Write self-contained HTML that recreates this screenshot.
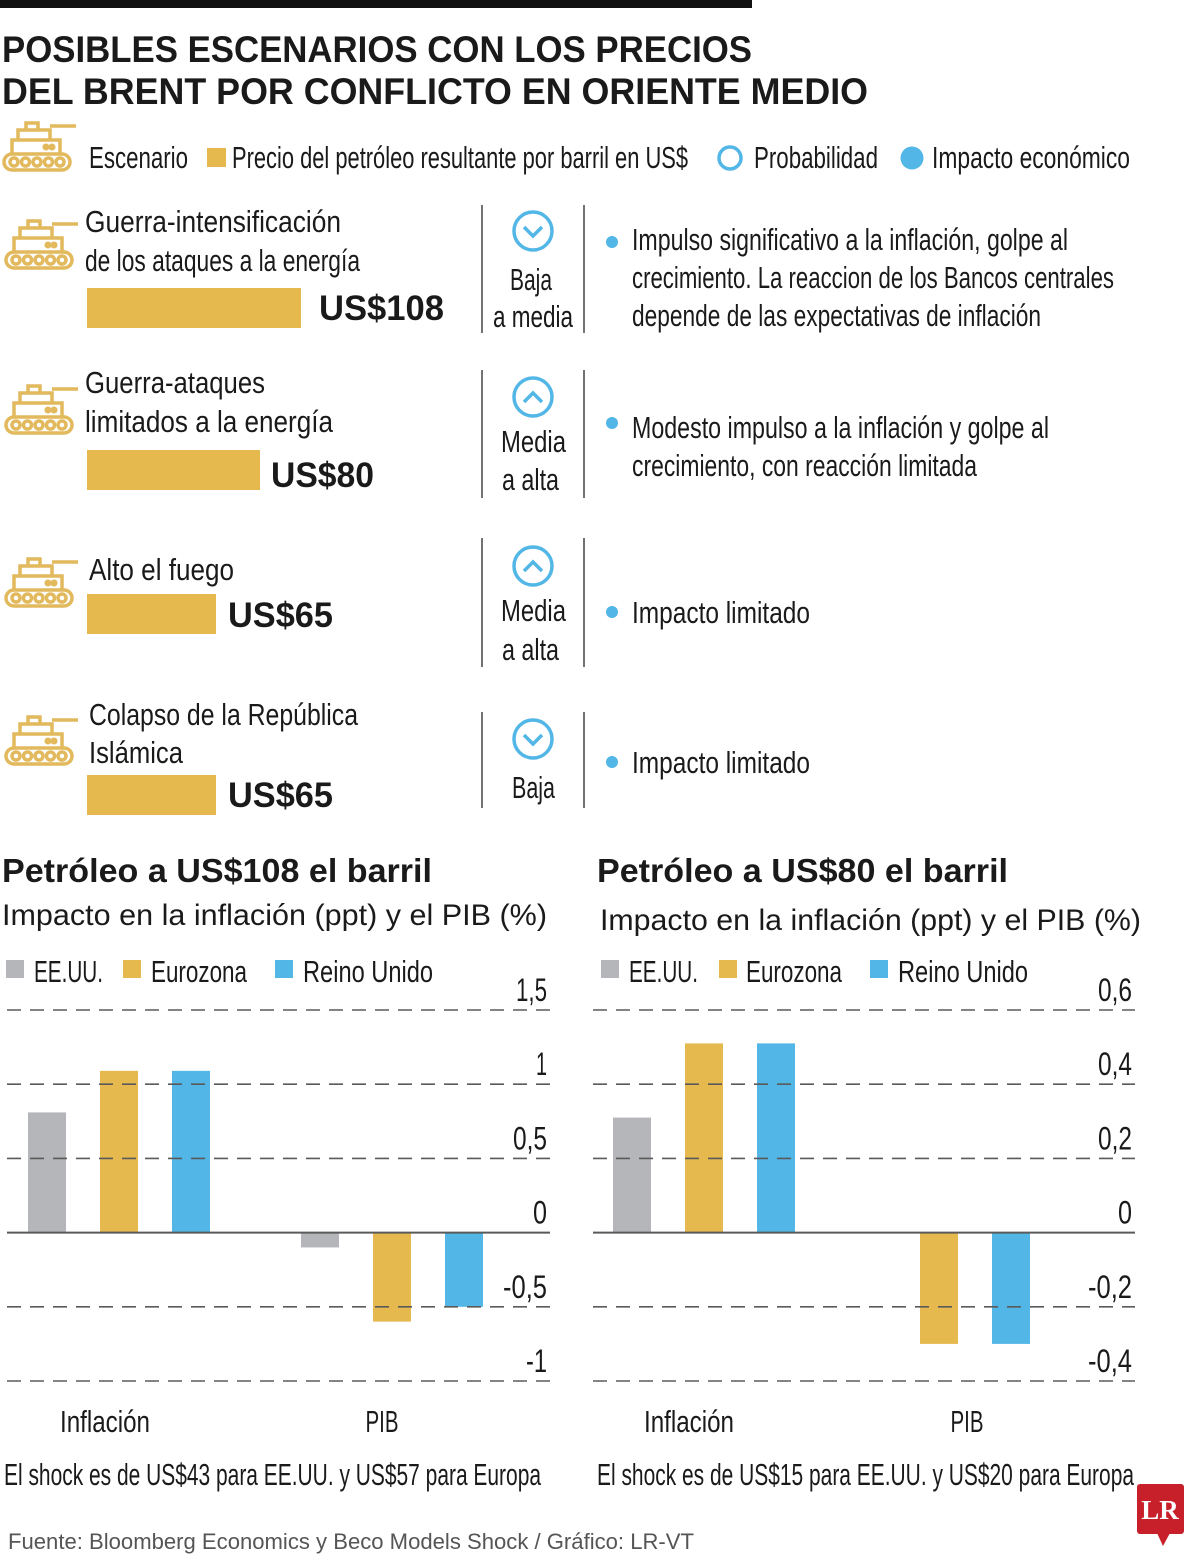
<!DOCTYPE html>
<html><head><meta charset="utf-8">
<style>
html,body{margin:0;padding:0;background:#fff;}
svg{display:block;}
text{font-family:"Liberation Sans Narrow","Liberation Sans",sans-serif;fill:#1a1a1a;}
.b{font-family:"Liberation Sans",sans-serif;font-weight:bold;}
.r{font-family:"Liberation Sans",sans-serif;}
</style></head>
<body>
<svg id="root" width="1200" height="1563" viewBox="0 0 1200 1563" xmlns="http://www.w3.org/2000/svg">
<defs>
<g id="tank" fill="none" stroke="#e2b95c" stroke-width="3.5">
  <rect x="2" y="36" width="66" height="16" rx="8"/>
  <circle cx="12" cy="44" r="4"/><circle cx="23.5" cy="44" r="4"/><circle cx="35" cy="44" r="4"/><circle cx="46.5" cy="44" r="4"/><circle cx="58" cy="44" r="4"/>
  <path d="M10 36 V22 H58 V36"/>
  <path d="M16 22 V12 H48 V22"/>
  <path d="M24 12 V5 H36 V12"/>
  <path d="M48 8 H74"/>
  <circle cx="44" cy="29" r="1.8" fill="#e2b95c"/><circle cx="50" cy="29" r="1.8" fill="#e2b95c"/>
</g>
</defs>
<rect x="0" y="0" width="752" height="8" fill="#111"/>
<text class="b" x="2" y="62" font-size="37" textLength="750" lengthAdjust="spacingAndGlyphs">POSIBLES ESCENARIOS CON LOS PRECIOS</text>
<text class="b" x="2" y="104" font-size="37" textLength="866" lengthAdjust="spacingAndGlyphs">DEL BRENT POR CONFLICTO EN ORIENTE MEDIO</text>

<g>
<use href="#tank" x="2" y="118"/>
<text x="89" y="168" font-size="31" textLength="99" lengthAdjust="spacingAndGlyphs">Escenario</text>
<rect x="207" y="148" width="19" height="19" fill="#e6b94f"/>
<text x="232" y="168" font-size="31" textLength="456" lengthAdjust="spacingAndGlyphs">Precio del petróleo resultante por barril en US$</text>
<circle cx="730" cy="158" r="11" fill="none" stroke="#52b6e6" stroke-width="3.5"/>
<text x="754" y="168" font-size="31" textLength="124" lengthAdjust="spacingAndGlyphs">Probabilidad</text>
<circle cx="912" cy="158" r="11.5" fill="#52b6e6"/>
<text x="932" y="168" font-size="31" textLength="198" lengthAdjust="spacingAndGlyphs">Impacto económico</text>
</g>

<g>
<use href="#tank" x="4" y="216"/>
<text x="85" y="232" font-size="31" textLength="256" lengthAdjust="spacingAndGlyphs">Guerra-intensificación</text>
<text x="85" y="271" font-size="31" textLength="275" lengthAdjust="spacingAndGlyphs">de los ataques a la energía</text>
<rect x="87" y="288" width="214" height="40" fill="#e6b94f"/>
<text class="b" x="319" y="320" font-size="35" textLength="125" lengthAdjust="spacingAndGlyphs">US$108</text>
<line x1="482" y1="205" x2="482" y2="333" stroke="#444" stroke-width="1.5"/>
<line x1="584" y1="205" x2="584" y2="333" stroke="#444" stroke-width="1.5"/>
<circle cx="533" cy="231" r="19" fill="none" stroke="#52b6e6" stroke-width="3.5"/>
<path d="M524 227 L533 236 L542 227" fill="none" stroke="#52b6e6" stroke-width="3.5"/>
<text x="510" y="290" font-size="31" textLength="42" lengthAdjust="spacingAndGlyphs">Baja</text>
<text x="493" y="327" font-size="31" textLength="80" lengthAdjust="spacingAndGlyphs">a media</text>
<circle cx="612" cy="242" r="6" fill="#52b6e6"/>
<text x="632" y="250" font-size="31" textLength="436" lengthAdjust="spacingAndGlyphs">Impulso significativo a la inflación, golpe al</text>
<text x="632" y="288" font-size="31" textLength="482" lengthAdjust="spacingAndGlyphs">crecimiento. La reaccion de los Bancos centrales</text>
<text x="632" y="326" font-size="31" textLength="409" lengthAdjust="spacingAndGlyphs">depende de las expectativas de inflación</text>
</g>

<g>
<use href="#tank" x="4" y="381"/>
<text x="85" y="393" font-size="31" textLength="180" lengthAdjust="spacingAndGlyphs">Guerra-ataques</text>
<text x="85" y="432" font-size="31" textLength="248" lengthAdjust="spacingAndGlyphs">limitados a la energía</text>
<rect x="87" y="450" width="173" height="40" fill="#e6b94f"/>
<text class="b" x="271" y="487" font-size="35" textLength="103" lengthAdjust="spacingAndGlyphs">US$80</text>
<line x1="482" y1="370" x2="482" y2="498" stroke="#444" stroke-width="1.5"/>
<line x1="584" y1="370" x2="584" y2="498" stroke="#444" stroke-width="1.5"/>
<circle cx="533" cy="397" r="19" fill="none" stroke="#52b6e6" stroke-width="3.5"/>
<path d="M524 402 L533 393 L542 402" fill="none" stroke="#52b6e6" stroke-width="3.5"/>
<text x="501" y="452" font-size="31" textLength="65" lengthAdjust="spacingAndGlyphs">Media</text>
<text x="502" y="490" font-size="31" textLength="57" lengthAdjust="spacingAndGlyphs">a alta</text>
<circle cx="612" cy="423" r="6" fill="#52b6e6"/>
<text x="632" y="438" font-size="31" textLength="417" lengthAdjust="spacingAndGlyphs">Modesto impulso a la inflación y golpe al</text>
<text x="632" y="476" font-size="31" textLength="345" lengthAdjust="spacingAndGlyphs">crecimiento, con reacción limitada</text>
</g>

<g>
<use href="#tank" x="4" y="554"/>
<text x="89" y="580" font-size="31" textLength="145" lengthAdjust="spacingAndGlyphs">Alto el fuego</text>
<rect x="87" y="594" width="129" height="40" fill="#e6b94f"/>
<text class="b" x="228" y="627" font-size="35" textLength="105" lengthAdjust="spacingAndGlyphs">US$65</text>
<line x1="482" y1="538" x2="482" y2="667" stroke="#444" stroke-width="1.5"/>
<line x1="584" y1="538" x2="584" y2="667" stroke="#444" stroke-width="1.5"/>
<circle cx="533" cy="566" r="19" fill="none" stroke="#52b6e6" stroke-width="3.5"/>
<path d="M524 571 L533 562 L542 571" fill="none" stroke="#52b6e6" stroke-width="3.5"/>
<text x="501" y="621" font-size="31" textLength="65" lengthAdjust="spacingAndGlyphs">Media</text>
<text x="502" y="660" font-size="31" textLength="57" lengthAdjust="spacingAndGlyphs">a alta</text>
<circle cx="612" cy="612" r="6" fill="#52b6e6"/>
<text x="632" y="623" font-size="31" textLength="178" lengthAdjust="spacingAndGlyphs">Impacto limitado</text>
</g>

<g>
<use href="#tank" x="4" y="712"/>
<text x="89" y="725" font-size="31" textLength="269" lengthAdjust="spacingAndGlyphs">Colapso de la República</text>
<text x="89" y="763" font-size="31" textLength="94" lengthAdjust="spacingAndGlyphs">Islámica</text>
<rect x="87" y="775" width="129" height="40" fill="#e6b94f"/>
<text class="b" x="228" y="807" font-size="35" textLength="105" lengthAdjust="spacingAndGlyphs">US$65</text>
<line x1="482" y1="712" x2="482" y2="808" stroke="#444" stroke-width="1.5"/>
<line x1="584" y1="712" x2="584" y2="808" stroke="#444" stroke-width="1.5"/>
<circle cx="533" cy="739" r="19" fill="none" stroke="#52b6e6" stroke-width="3.5"/>
<path d="M524 735 L533 744 L542 735" fill="none" stroke="#52b6e6" stroke-width="3.5"/>
<text x="512" y="798" font-size="31" textLength="43" lengthAdjust="spacingAndGlyphs">Baja</text>
<circle cx="612" cy="762" r="6" fill="#52b6e6"/>
<text x="632" y="773" font-size="31" textLength="178" lengthAdjust="spacingAndGlyphs">Impacto limitado</text>
</g>

<text class="b" x="2" y="882" font-size="33" textLength="430" lengthAdjust="spacingAndGlyphs">Petróleo a US$108 el barril</text>
<text class="r" x="2" y="925" font-size="30" textLength="545" lengthAdjust="spacingAndGlyphs">Impacto en la inflación (ppt) y el PIB (%)</text>
<text class="b" x="597" y="882" font-size="33" textLength="411" lengthAdjust="spacingAndGlyphs">Petróleo a US$80 el barril</text>
<text class="r" x="600" y="930" font-size="30" textLength="541" lengthAdjust="spacingAndGlyphs">Impacto en la inflación (ppt) y el PIB (%)</text>

<g id="charts"></g>

<text class="r" x="8" y="1549" font-size="22" style="fill:#555" textLength="686" lengthAdjust="spacingAndGlyphs">Fuente: Bloomberg Economics y Beco Models Shock / Gráfico: LR-VT</text>
<g>
<rect x="1137" y="1484" width="47" height="50" rx="3" fill="#c8202a"/>
<path d="M1157 1533 L1163 1546 L1170 1533 Z" fill="#c8202a"/>
<text x="1160" y="1519" font-size="27" text-anchor="middle" font-weight="bold" style="fill:#fff;font-family:'Liberation Serif',serif">LR</text>
</g>
</svg>

<script>
const categories = ["Inflación", "PIB"];
const seriesNames = ["EE.UU.", "Eurozona", "Reino Unido"];
const chart1Usa = [0.81, -0.1];
const chart1Euro = [1.09, -0.6];
const chart1Uk = [1.09, -0.5];
const chart1Ticks = [1.5, 1, 0.5, 0, -0.5, -1];
const chart1TickLabels = ["1,5", "1", "0,5", "0", "-0,5", "-1"];
const chart2Usa = [0.31, 0];
const chart2Euro = [0.51, -0.30];
const chart2Uk = [0.51, -0.30];
const chart2Ticks = [0.6, 0.4, 0.2, 0, -0.2, -0.4];
const chart2TickLabels = ["0,6", "0,4", "0,2", "0", "-0,2", "-0,4"];

const NS = "http://www.w3.org/2000/svg";
const colors = ["#b5b6b9", "#e6b94f", "#52b6e6"];
const host = document.getElementById("charts");
function mk(tag, attrs, parent) {
  const e = document.createElementNS(NS, tag);
  for (const k in attrs) e.setAttribute(k, attrs[k]);
  parent.appendChild(e);
  return e;
}
function labelWidth(s) {
  let w = 0;
  for (const ch of s) w += ch === "," ? 6 : ch === "-" ? 10 : ch === "1" ? 11 : 14;
  return w;
}
function drawChart(id, x0, x1, ticks, tickLabels, series, catCenters, labelCenters, legendX, legendTextX, legendW, note, noteX, noteW) {
  const g = mk("g", {}, host);
  
  
  const yTop = 1010, yBot = 1381;
  const vMax = ticks[0], vMin = ticks[ticks.length - 1];
  const y = v => yTop + (vMax - v) / (vMax - vMin) * (yBot - yTop);
  seriesNames.forEach((n, i) => {
    const r = mk("rect", {x: legendX[i], y: 960, width: 18, height: 18, fill: colors[i]}, g);
    
    
    const t = mk("text", {x: legendTextX[i], y: 982, "font-size": 31, textLength: legendW[i], lengthAdjust: "spacingAndGlyphs"}, g);
    t.textContent = n;
    
    
  });
  const bw = 38, gap = 72;
  categories.forEach((c, ci) => {
    series.forEach((s, si) => {
      const v = s[ci];
      const bx = catCenters[ci] - gap + si * gap - bw / 2;
      const ya = y(Math.max(v, 0)), yb = y(Math.min(v, 0));
      if (yb - ya > 0) {
        const r = mk("rect", {x: bx, y: ya, width: bw, height: yb - ya, fill: colors[si]}, g);
        
        
      }
    });
    const lw = c.length > 3 ? 90 : 33;
    const t = mk("text", {x: labelCenters[ci] - lw / 2, y: 1432, "font-size": 31, textLength: lw, lengthAdjust: "spacingAndGlyphs"}, g);
    t.textContent = c;
    
    
  });
  ticks.forEach((v, i) => {
    const l = mk("line", {x1: x0, x2: x1, y1: y(v), y2: y(v), stroke: "#5a5a5a",
      "stroke-width": v === 0 ? 2 : 1.6, "stroke-dasharray": v === 0 ? "none" : "14 9"}, g);
    
    
    const w = labelWidth(tickLabels[i]);
    const t = mk("text", {x: x1 - 3 - w, y: y(v) - 9, "font-size": 32, textLength: w, lengthAdjust: "spacingAndGlyphs"}, g);
    t.textContent = tickLabels[i];
    
    
  });
  const n = mk("text", {x: noteX, y: 1485, "font-size": 31, textLength: noteW, lengthAdjust: "spacingAndGlyphs"}, g);
  n.textContent = note;
  
  
}
drawChart("chart-108", 7, 550, chart1Ticks, chart1TickLabels, [chart1Usa, chart1Euro, chart1Uk],
  [119, 392], [105, 382], [6, 123, 275], [34, 151, 303], [69, 96, 130],
  "El shock es de US$43 para EE.UU. y US$57 para Europa", 4, 537);
drawChart("chart-80", 593, 1135, chart2Ticks, chart2TickLabels, [chart2Usa, chart2Euro, chart2Uk],
  [704, 939], [689, 967], [601, 719, 870], [629, 746, 898], [69, 96, 130],
  "El shock es de US$15 para EE.UU. y US$20 para Europa", 597, 537);
</script>
</body></html>
